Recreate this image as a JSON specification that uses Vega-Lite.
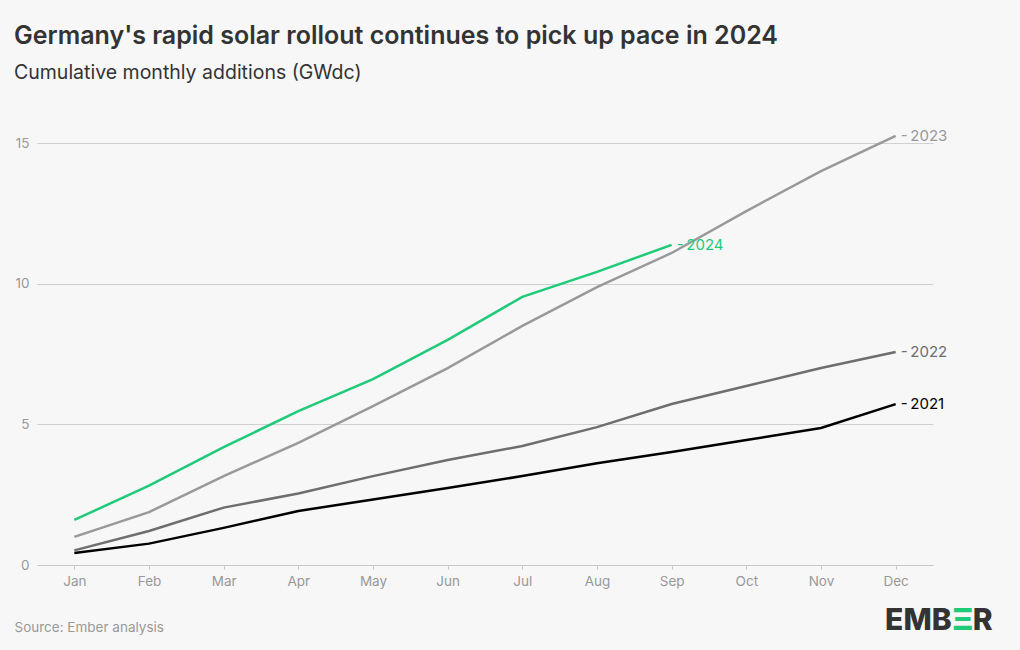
{
  "$schema": "https://vega.github.io/schema/vega-lite/v6.json",
  "autosize": {"type": "none"},
  "width": 896,
  "height": 422,
  "padding": {"left": 37, "top": 143, "right": 87, "bottom": 85},
  "background": "#f7f7f7",
  "title": {
    "text": "Germany's rapid solar rollout continues to pick up pace in 2024",
    "subtitle": "Cumulative monthly additions (GWdc)",
    "anchor": "start",
    "frame": "group",
    "dx": -23,
    "offset": 46,
    "font": "Inter",
    "fontSize": 25,
    "fontWeight": 600,
    "color": "#333333",
    "subtitleFont": "Inter",
    "subtitleFontSize": 19.5,
    "subtitleColor": "#333333",
    "subtitlePadding": 15
  },
  "config": {
    "view": {"stroke": null},
    "font": "Inter",
    "axis": {"labelFont": "Inter", "titleFont": "Inter"}
  },
  "datasets": {
    "logo": [{"name": "EMBER"}]
  },
  "data": {
    "values": [
      {"month": "Jan", "year": "2021", "value": 0.43},
      {"month": "Feb", "year": "2021", "value": 0.76},
      {"month": "Mar", "year": "2021", "value": 1.32},
      {"month": "Apr", "year": "2021", "value": 1.92},
      {"month": "May", "year": "2021", "value": 2.33},
      {"month": "Jun", "year": "2021", "value": 2.74},
      {"month": "Jul", "year": "2021", "value": 3.16},
      {"month": "Aug", "year": "2021", "value": 3.62},
      {"month": "Sep", "year": "2021", "value": 4.02},
      {"month": "Oct", "year": "2021", "value": 4.44},
      {"month": "Nov", "year": "2021", "value": 4.87},
      {"month": "Dec", "year": "2021", "value": 5.72},
      {"month": "Jan", "year": "2022", "value": 0.52},
      {"month": "Feb", "year": "2022", "value": 1.21},
      {"month": "Mar", "year": "2022", "value": 2.04},
      {"month": "Apr", "year": "2022", "value": 2.54},
      {"month": "May", "year": "2022", "value": 3.16},
      {"month": "Jun", "year": "2022", "value": 3.73},
      {"month": "Jul", "year": "2022", "value": 4.23},
      {"month": "Aug", "year": "2022", "value": 4.9},
      {"month": "Sep", "year": "2022", "value": 5.72},
      {"month": "Oct", "year": "2022", "value": 6.36},
      {"month": "Nov", "year": "2022", "value": 7.0},
      {"month": "Dec", "year": "2022", "value": 7.57},
      {"month": "Jan", "year": "2023", "value": 1.0},
      {"month": "Feb", "year": "2023", "value": 1.88},
      {"month": "Mar", "year": "2023", "value": 3.16},
      {"month": "Apr", "year": "2023", "value": 4.34},
      {"month": "May", "year": "2023", "value": 5.65},
      {"month": "Jun", "year": "2023", "value": 7.0},
      {"month": "Jul", "year": "2023", "value": 8.5},
      {"month": "Aug", "year": "2023", "value": 9.88},
      {"month": "Sep", "year": "2023", "value": 11.09},
      {"month": "Oct", "year": "2023", "value": 12.58},
      {"month": "Nov", "year": "2023", "value": 14.0},
      {"month": "Dec", "year": "2023", "value": 15.25},
      {"month": "Jan", "year": "2024", "value": 1.6},
      {"month": "Feb", "year": "2024", "value": 2.82},
      {"month": "Mar", "year": "2024", "value": 4.19},
      {"month": "Apr", "year": "2024", "value": 5.47},
      {"month": "May", "year": "2024", "value": 6.61},
      {"month": "Jun", "year": "2024", "value": 8.0},
      {"month": "Jul", "year": "2024", "value": 9.53},
      {"month": "Aug", "year": "2024", "value": 10.42},
      {"month": "Sep", "year": "2024", "value": 11.38}
    ]
  },
  "layer": [
    {
      "mark": {"type": "line", "strokeWidth": 2.5},
      "encoding": {
        "x": {
          "field": "month",
          "type": "ordinal",
          "sort": ["Jan", "Feb", "Mar", "Apr", "May", "Jun", "Jul", "Aug", "Sep", "Oct", "Nov", "Dec"],
          "scale": {"type": "point", "padding": 0.5},
          "axis": {
            "labelAngle": 0,
            "labelColor": "#999999",
            "labelFontSize": 13.5,
            "labelPadding": 5,
            "tickSize": 4,
            "tickColor": "#c8c8c8",
            "domainColor": "#c8c8c8",
            "grid": false,
            "title": "Source: Ember analysis",
            "titleAnchor": "start",
            "titleAlign": "left",
            "titleBaseline": "middle",
            "titleX": -23,
            "titleY": 62,
            "titleColor": "#999999",
            "titleFontSize": 13.5,
            "titleFontWeight": "normal"
          }
        },
        "y": {
          "field": "value",
          "type": "quantitative",
          "scale": {"domain": [0, 15], "nice": false},
          "axis": {
            "values": [0, 5, 10, 15],
            "title": null,
            "domain": false,
            "ticks": false,
            "labelPadding": 8,
            "labelColor": "#999999",
            "labelFontSize": 13.5,
            "gridColor": "#d0d0d0"
          }
        },
        "color": {
          "field": "year",
          "type": "nominal",
          "scale": {"domain": ["2021", "2022", "2023", "2024"], "range": ["#000000", "#6e6e6e", "#999999", "#1fca78"]},
          "legend": null
        }
      }
    },
    {
      "transform": [
        {"filter": "datum.month == 'Dec' || (datum.year == '2024' && datum.month == 'Sep')"},
        {"calculate": "'-\u2009' + datum.year", "as": "label"}
      ],
      "mark": {"type": "text", "align": "left", "baseline": "middle", "dx": 5, "fontSize": 15, "font": "Inter"},
      "encoding": {
        "x": {"field": "month", "type": "ordinal", "sort": ["Jan", "Feb", "Mar", "Apr", "May", "Jun", "Jul", "Aug", "Sep", "Oct", "Nov", "Dec"]},
        "y": {"field": "value", "type": "quantitative"},
        "text": {"field": "label"},
        "color": {"field": "year", "type": "nominal", "scale": {"domain": ["2021", "2022", "2023", "2024"], "range": ["#000000", "#6e6e6e", "#999999", "#1fca78"]}, "legend": null}
      }
    },
    {
      "data": {"name": "logo"},
      "mark": {"type": "text", "align": "right", "baseline": "middle", "dx": 56, "fontSize": 30, "fontWeight": 800, "font": "Inter", "color": "#333333", "text": "EMB"},
      "encoding": {"x": {"datum": "Dec", "type": "ordinal"}, "y": {"datum": -1.99, "type": "quantitative"}}
    },
    {
      "data": {"name": "logo"},
      "mark": {"type": "text", "align": "center", "baseline": "middle", "dx": 67, "fontSize": 30, "fontWeight": 800, "font": "Inter", "color": "#1fca78", "text": "Ξ"},
      "encoding": {"x": {"datum": "Dec", "type": "ordinal"}, "y": {"datum": -1.99, "type": "quantitative"}}
    },
    {
      "data": {"name": "logo"},
      "mark": {"type": "text", "align": "left", "baseline": "middle", "dx": 77, "fontSize": 30, "fontWeight": 800, "font": "Inter", "color": "#333333", "text": "R"},
      "encoding": {"x": {"datum": "Dec", "type": "ordinal"}, "y": {"datum": -1.99, "type": "quantitative"}}
    }
  ]
}
